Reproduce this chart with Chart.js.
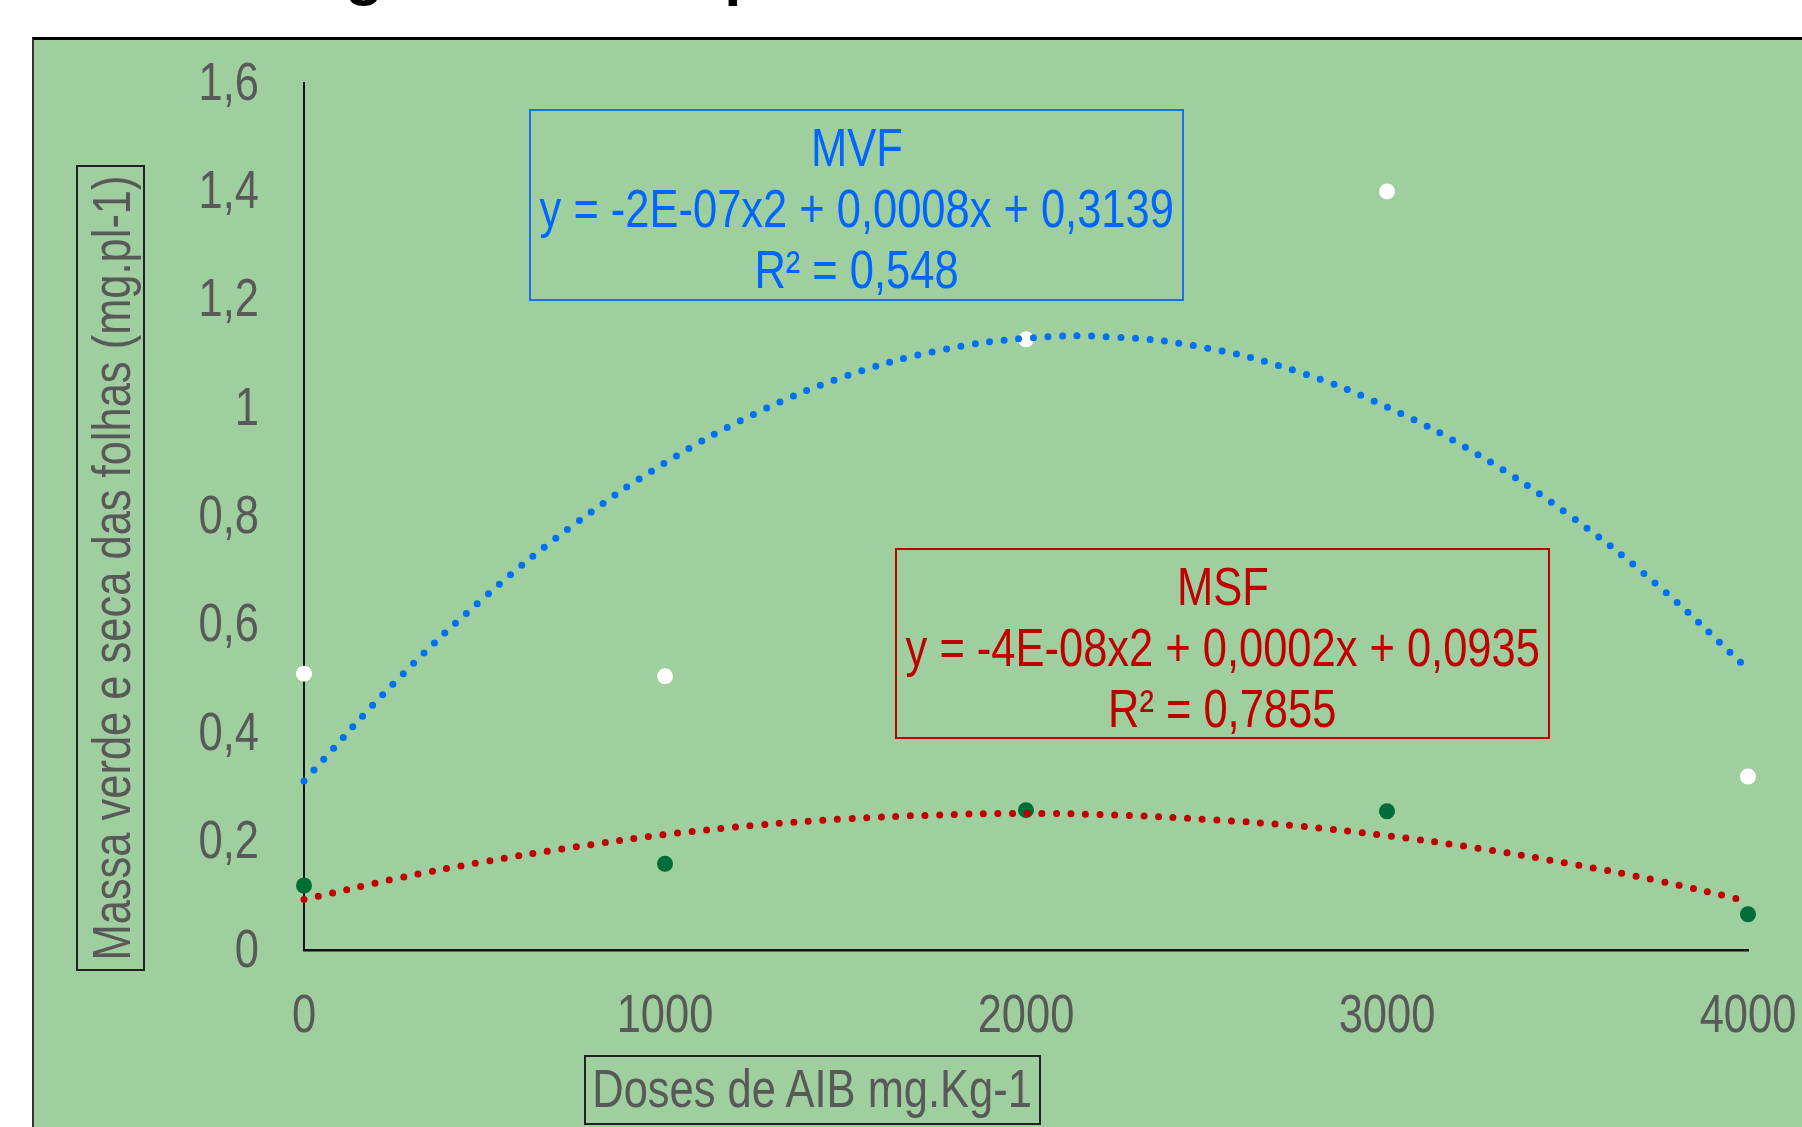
<!DOCTYPE html>
<html>
<head>
<meta charset="utf-8">
<script src="https://cdn.jsdelivr.net/npm/chart.js@4.4.1/dist/chart.umd.min.js"></script>
<style>
  body { margin:0; background:#fff; width:1802px; height:1127px; overflow:hidden; position:relative; font-family:'Liberation Sans',Arial,sans-serif; }
  #titulo { position:absolute; left:266px; top:-59px; font:bold 62px 'Liberation Sans',Arial,sans-serif; color:#000; white-space:nowrap; line-height:62px; }
  #painel { position:absolute; left:32px; top:37px; width:1800px; height:1120px; background:#9fcf9f; border-top:3px solid #000; border-left:2px solid #333; }
  #grafico { position:absolute; left:0; top:0; }
  .caixa { position:absolute; box-sizing:border-box; display:flex; flex-direction:column; align-items:center;
           font-size:53px; line-height:61px; white-space:nowrap; }
  /* fonte estreita simulada (Arial Narrow) */
  .caixa span { display:block; transform:scaleX(0.82); }
  #tituloY { left:76px; top:165px; width:69px; height:806px; border:2px solid #222; }
  #tituloY span { position:absolute; left:50%; top:50%; transform:translate(-50%,-50%) rotate(-90deg) scaleX(0.82); color:#595959; }
  #tituloX { left:584px; top:1055px; width:457px; height:70px; border:2px solid #222; color:#595959; line-height:64px; }
  #eqMVF { left:529px; top:109px; width:655px; height:192px; border:2px solid #1a6ff0; color:#0066ff; padding-top:6px; }
  #eqMSF { left:895px; top:548px; width:655px; height:191px; border:2px solid #c00000; color:#c00000; padding-top:6px; }
</style>
</head>
<body>
<div id="titulo">Regressão nas plantas</div>
<div id="painel"></div>
<canvas id="grafico" width="1802" height="1127"></canvas>
<div class="caixa" id="tituloY"><span>Massa verde e seca das folhas (mg.pl-1)</span></div>
<div class="caixa" id="tituloX"><span>Doses de AIB mg.Kg-1</span></div>
<div class="caixa" id="eqMVF"><span>MVF</span><span>y = -2E-07x2 + 0,0008x + 0,3139</span><span>R² = 0,548</span></div>
<div class="caixa" id="eqMSF"><span>MSF</span><span>y = -4E-08x2 + 0,0002x + 0,0935</span><span>R² = 0,7855</span></div>
<script>
/*************** DADOS ***************/
var doses = [0, 1000, 2000, 3000, 4000];
var mvf = [0.51, 0.505, 1.127, 1.40, 0.32];   // massa verde (pontos brancos)
var msf = [0.119, 0.159, 0.258, 0.256, 0.066]; // massa seca (pontos verdes)

var dosesTend = [0, 250, 500, 750, 1000, 1250, 1500, 1750, 2000, 2250, 2500, 2750, 3000, 3250, 3500, 3750, 4000];
var tendMVF = [0.312, 0.493, 0.651, 0.786, 0.899, 0.990, 1.059, 1.105, 1.129, 1.131, 1.111, 1.068, 1.002, 0.915, 0.805, 0.673, 0.518];
var tendMSF = [0.093, 0.131, 0.163, 0.190, 0.213, 0.230, 0.242, 0.249, 0.252, 0.249, 0.241, 0.229, 0.211, 0.188, 0.160, 0.128, 0.090];

var ticksY = [0, 0.2, 0.4, 0.6, 0.8, 1, 1.2, 1.4, 1.6];
var ticksX = [0, 1000, 2000, 3000, 4000];

function pares(xs, ys) {
    var r = [];
    for (var i = 0; i < xs.length; i++) r.push({x: xs[i], y: ys[i]});
    return r;
}

function rotuloY(v) {
    return String(Math.round(v * 10) / 10).replace('.', ',');
}

//*********** rotulos dos eixos em fonte estreita (fillText com maxWidth) ***********/
var rotulosEstreitos = {
    id: 'rotulosEstreitos',
    afterDraw: function(chart) {
        var c = chart.ctx;
        var sx = chart.scales.x, sy = chart.scales.y;
        c.save();
        c.font = "53px 'Liberation Sans', Arial, sans-serif";
        c.fillStyle = '#595959';
        c.textBaseline = 'middle';

        c.textAlign = 'right';
        sy.ticks.forEach(function(t) {
            var txt = rotuloY(t.value);
            var w = c.measureText(txt).width;
            c.fillText(txt, sx.left - 45, sy.getPixelForValue(t.value) + 2, w * 0.82);
        });

        c.textAlign = 'center';
        sx.ticks.forEach(function(t) {
            var txt = String(t.value);
            var w = c.measureText(txt).width;
            c.fillText(txt, sx.getPixelForValue(t.value), sy.bottom + 67, w * 0.82);
        });
        c.restore();
    }
};

var ctx = document.getElementById('grafico').getContext('2d');
var grafico = new Chart(ctx, {
    type: 'scatter',
    data: {
        datasets: [
            {label: 'tendencia MVF', data: pares(dosesTend, tendMVF), showLine: true, pointRadius: 0,
             borderColor: '#0070f5', borderWidth: 7, borderDash: [0, 14.6], borderCapStyle: 'round',
             tension: 0.4, order: 0},
            {label: 'tendencia MSF', data: pares(dosesTend, tendMSF), showLine: true, pointRadius: 0,
             borderColor: '#c00000', borderWidth: 7, borderDash: [0, 14.6], borderCapStyle: 'round',
             tension: 0.4, order: 0},
            {label: 'MVF', data: pares(doses, mvf), pointRadius: 8, pointBackgroundColor: '#ffffff',
             pointBorderWidth: 0, order: 1},
            {label: 'MSF', data: pares(doses, msf), pointRadius: 8, pointBackgroundColor: '#006d36',
             pointBorderWidth: 0, order: 1}
        ]
    },
    options: {
        responsive: false,
        animation: false,
        clip: false,
        layout: {padding: {top: 83, right: 54, left: 0, bottom: 0}},
        plugins: {legend: {display: false}, tooltip: {enabled: false}},
        scales: {
            x: {
                type: 'linear', min: 0, max: 4000,
                grid: {display: false, drawTicks: false},
                border: {display: true, color: '#111', width: 2.5},
                afterBuildTicks: function(s) { s.ticks = ticksX.map(function(v){ return {value: v}; }); },
                afterFit: function(s) { s.height = 177; s.paddingLeft = 0; s.paddingRight = 0; },
                ticks: {display: false}
            },
            y: {
                min: 0, max: 1.6,
                grid: {display: false, drawTicks: false},
                border: {display: true, color: '#111', width: 2},
                afterBuildTicks: function(s) { s.ticks = ticksY.map(function(v){ return {value: v}; }); },
                afterFit: function(s) { s.width = 304; s.paddingTop = 0; s.paddingBottom = 0; },
                ticks: {display: false}
            }
        }
    },
    plugins: [rotulosEstreitos]
});
</script>
</body>
</html>
